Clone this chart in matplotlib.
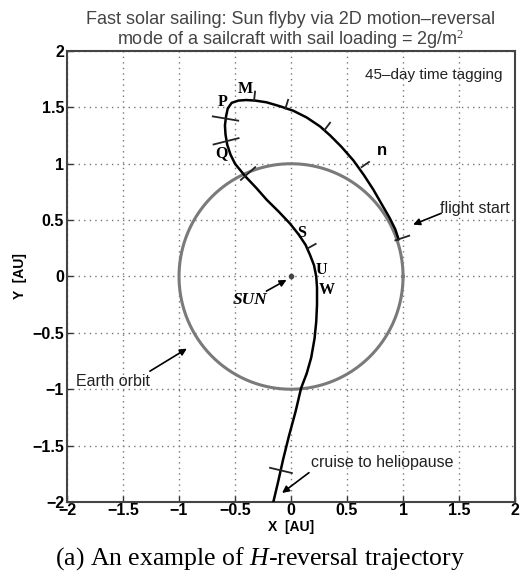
import numpy as np
import matplotlib
matplotlib.use('Agg')
import matplotlib.pyplot as plt

plt.rcParams['font.family'] = ['Liberation Sans', 'DejaVu Sans']
plt.rcParams['mathtext.fontset'] = 'custom'
plt.rcParams['mathtext.rm'] = 'Liberation Serif'
plt.rcParams['mathtext.it'] = 'Liberation Serif:italic'

# trajectory, from flight start to cruise [AU]
traj_x = [0.96, 0.93, 0.88, 0.81, 0.735, 0.65, 0.556, 0.45, 0.35, 0.26, 0.14, 0.02,
          -0.10, -0.22, -0.32, -0.40, -0.47, -0.53, -0.565, -0.58, -0.59, -0.585,
          -0.57, -0.54, -0.50, -0.41, -0.31, -0.217, -0.11, -0.01, 0.07, 0.13, 0.17,
          0.205, 0.225, 0.232, 0.232, 0.225, 0.21, 0.18, 0.14, 0.09, 0.04, -0.02,
          -0.07, -0.115, -0.158]
traj_y = [0.33, 0.42, 0.52, 0.64, 0.77, 0.90, 1.03, 1.15, 1.25, 1.33, 1.41, 1.47,
          1.51, 1.545, 1.56, 1.565, 1.56, 1.54, 1.49, 1.42, 1.34, 1.26,
          1.17, 1.08, 1.00, 0.89, 0.785, 0.68, 0.575, 0.47, 0.37, 0.28, 0.19,
          0.10, 0.0, -0.10, -0.25, -0.40, -0.55, -0.72, -0.86, -0.99, -1.20, -1.42,
          -1.62, -1.82, -2.0]

# 45-day time tags on the trajectory
tag_x = [0.96, 0.63, 0.30, -0.05, -0.33, -0.58, -0.575, -0.41, 0.15, -0.09]
tag_y = [0.33, 0.97, 1.30, 1.49, 1.56, 1.40, 1.20, 0.89, 0.25, -1.72]
tag_lo = [0.10, 0.08, 0.08, 0.08, 0.08, 0.12, 0.12, 0.05, 0.0, 0.10]
tag_hi = [0.03, 0.0, 0.0, 0.0, 0.0, 0.11, 0.11, 0.12, 0.08, 0.10]

earth_r = 1.0

point_labels = ['M', 'P', 'Q', 'S', 'U', 'W']
point_lx = [-0.41, -0.61, -0.62, 0.095, 0.27, 0.32]
point_ly = [1.66, 1.55, 1.09, 0.39, 0.06, -0.12]

ticks = [-2, -1.5, -1, -0.5, 0, 0.5, 1, 1.5, 2]
tick_labels = ['\u22122', '\u22121.5', '\u22121', '\u22120.5', '0', '0.5', '1', '1.5', '2']

fig = plt.figure(figsize=(5.21, 5.76), dpi=100)
ax = fig.add_axes([0.1286, 0.1285, 0.86, 0.783])

ax.set_xlim(-2, 2)
ax.set_ylim(-2, 2)
ax.set_xticks(ticks)
ax.set_yticks(ticks)
ax.set_xticklabels(tick_labels, fontsize=11.5, fontweight='bold')
ax.set_yticklabels(tick_labels, fontsize=11.5, fontweight='bold')
ax.tick_params(direction='in', length=4, width=1, color='#333333', pad=2)
ax.tick_params(axis='x', pad=1)
for s in ax.spines.values():
    s.set_linewidth(1.5)
    s.set_color('#444444')
ax.grid(True, linestyle=(0, (1, 3)), color='#777777', linewidth=1)

# earth orbit
th = np.linspace(0, 2 * np.pi, 400)
ax.plot(earth_r * np.cos(th), earth_r * np.sin(th), color='#7a7a7a', lw=2.2, zorder=2)

# trajectory
tx = np.array(traj_x)
ty = np.array(traj_y)
ax.plot(tx, ty, color='black', lw=1.8, zorder=3)

# time tags perpendicular to the path
for x0, y0, lo, hi in zip(tag_x, tag_y, tag_lo, tag_hi):
    i = int(np.argmin((tx - x0) ** 2 + (ty - y0) ** 2))
    i0, i1 = max(i - 1, 0), min(i + 1, len(tx) - 1)
    dx, dy = tx[i1] - tx[i0], ty[i1] - ty[i0]
    n = np.hypot(dx, dy)
    nx, ny = -dy / n, dx / n
    ax.plot([x0 - lo * nx, x0 + hi * nx], [y0 - lo * ny, y0 + hi * ny],
            color='#222222', lw=1.3, zorder=3)

# sun
ax.plot([0], [0], marker='o', ms=3, color='#444444', zorder=4)

for lab, x, y in zip(point_labels, point_lx, point_ly):
    ax.text(x, y, lab, fontsize=11.5, fontweight='bold', family='Liberation Serif',
            ha='center', va='center', zorder=5)
ax.text(0.81, 1.12, 'n', fontsize=12, fontweight='bold', ha='center', va='center')
ax.text(-0.37, -0.21, 'SUN', fontsize=12.5, fontweight='bold', fontstyle='italic',
        family='Liberation Serif', ha='center', va='center')

arrow = dict(arrowstyle='-|>', color='black', lw=1.2, mutation_scale=10, shrinkA=0, shrinkB=0)
ax.annotate('', xy=(-0.04, -0.03), xytext=(-0.22, -0.13), arrowprops=arrow)
ax.text(1.27, 1.79, '45\u2013day time tagging', fontsize=11, ha='center', va='center',
        color='#222222')
ax.annotate('', xy=(1.09, 0.46), xytext=(1.34, 0.56), arrowprops=arrow)
ax.text(1.64, 0.60, 'flight start', fontsize=11.5, ha='center', va='center', color='#222222')
ax.annotate('', xy=(-0.93, -0.64), xytext=(-1.26, -0.84), arrowprops=arrow)
ax.text(-1.59, -0.93, 'Earth orbit', fontsize=11.5, ha='center', va='center', color='#222222')
ax.annotate('', xy=(-0.08, -1.92), xytext=(0.16, -1.74), arrowprops=arrow)
ax.text(0.175, -1.65, 'cruise to heliopause', fontsize=11.5, ha='left', va='center',
        color='#222222')

ax.set_xlabel('X  [AU]', fontsize=10, fontweight='bold', labelpad=1)
ax.set_ylabel('Y  [AU]', fontsize=10, fontweight='bold', labelpad=4)
ax.set_title('Fast solar sailing: Sun flyby via 2D motion\u2013reversal\n'
             'mode of a sailcraft with sail loading = 2g/m$^2$',
             fontsize=13, color='#444444', pad=4, linespacing=1.0)

fig.text(0.5, 0.03, '(a) An example of $\\it{H}$-reversal trajectory',
         fontsize=18.5, family='Liberation Serif', ha='center', va='center')

fig.savefig('out.png', dpi=100)
